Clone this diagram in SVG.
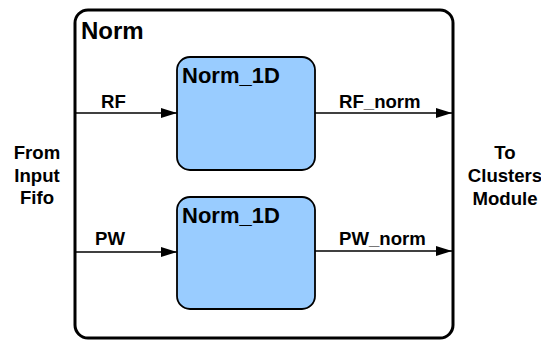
<svg xmlns="http://www.w3.org/2000/svg" width="541" height="341" viewBox="0 0 541 341">
  <defs>
    <marker id="arrow" viewBox="0 0 10 10" refX="10" refY="5" markerWidth="16" markerHeight="10" markerUnits="userSpaceOnUse" orient="auto" preserveAspectRatio="none">
      <path d="M0,0 L10,5 L0,10 Z" fill="#000"/>
    </marker>
    <style>
      text { font-family: "Liberation Sans", Arial, sans-serif; font-weight: bold; fill: #000; }
      .outer { fill: #fff; stroke: #000; stroke-width: 3; }
      .block { fill: #99ccff; stroke: #000; stroke-width: 1.8; }
      .wire { fill: none; stroke: #000; stroke-width: 1.5; marker-end: url(#arrow); }
      .title { font-size: 24px; }
      .blabel { font-size: 22px; }
      .sig { font-size: 18.6px; }
      .side { font-size: 18.6px; text-anchor: middle; }
    </style>
  </defs>
  <rect width="541" height="341" fill="#fff"/>

  <g id="norm">
    <rect class="outer" x="75" y="10" width="378" height="328" rx="13" ry="13"/>
    <text class="title" x="81" y="39">Norm</text>
  </g>

  <g id="norm1d-rf">
    <rect class="block" x="177" y="57" width="138" height="113" rx="13" ry="13"/>
    <text class="blabel" x="182" y="83">Norm_1D</text>
  </g>

  <g id="norm1d-pw">
    <rect class="block" x="177" y="197" width="138" height="112" rx="13" ry="13"/>
    <text class="blabel" x="182" y="223">Norm_1D</text>
  </g>

  <g id="input">
    <text class="side" x="37" y="159">From</text>
    <text class="side" x="37" y="182">Input</text>
    <text class="side" x="37" y="204">Fifo</text>
  </g>

  <g id="output">
    <text class="side" x="505" y="159">To</text>
    <text class="side" x="505" y="182">Clusters</text>
    <text class="side" x="505" y="205">Module</text>
  </g>

  <g id="connectors">
    <path class="wire" d="M75,113 H177"/>
    <text class="sig" x="101" y="108">RF</text>
    <path class="wire" d="M315,113 H452"/>
    <text class="sig" x="339" y="108">RF_norm</text>
    <path class="wire" d="M75,252 H177"/>
    <text class="sig" x="95" y="245">PW</text>
    <path class="wire" d="M315,251 H452"/>
    <text class="sig" x="339" y="245">PW_norm</text>
  </g>
</svg>
